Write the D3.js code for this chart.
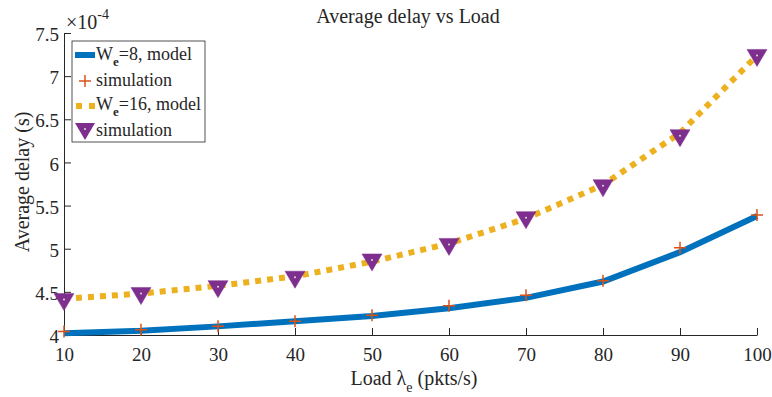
<!DOCTYPE html>
<html>
  <head>
    <meta charset="utf-8" />
    <title>Average delay vs Load</title>
    <script src="https://d3js.org/d3.v7.min.js"></script>
    <style>
      body { margin: 0; background: #fff; }
      svg text { font-family: "Liberation Serif", "Times New Roman", serif; fill: #262626; }
    </style>
  </head>
  <body>
    <script>
      // data (delay in units of 1e-4 s)
      const loads = [10, 20, 30, 40, 50, 60, 70, 80, 90, 100];
      const model8 = [4.02, 4.05, 4.10, 4.16, 4.22, 4.31, 4.43, 4.62, 4.96, 5.38];
      const sim8 = [4.04, 4.06, 4.10, 4.16, 4.23, 4.34, 4.46, 4.63, 5.01, 5.39];
      const model16 = [4.42, 4.48, 4.57, 4.68, 4.85, 5.06, 5.35, 5.74, 6.34, 7.24];
      const sim16 = [4.41, 4.48, 4.56, 4.67, 4.87, 5.05, 5.36, 5.73, 6.31, 7.24];
      const yTicks = [4, 4.5, 5, 5.5, 6, 6.5, 7, 7.5];

      const width = 772, height = 397;
      const margin = { top: 33, right: 15, bottom: 62, left: 64 };

      const svg = d3.select("body").append("svg")
        .attr("width", width)
        .attr("height", height);

      const x = d3.scaleLinear().domain([10, 100]).range([margin.left, width - margin.right]);
      const y = d3.scaleLinear().domain([4, 7.5]).range([height - margin.bottom, margin.top]);

      // axes (ticks pointing inward, like matlab)
      const xAxis = svg.append("g")
        .attr("transform", `translate(0,${height - margin.bottom})`)
        .call(d3.axisBottom(x).tickValues(loads).tickSizeInner(-7).tickSizeOuter(0).tickPadding(13));
      const yAxis = svg.append("g")
        .attr("transform", `translate(${margin.left},0)`)
        .call(d3.axisLeft(y).tickValues(yTicks).tickFormat(d3.format("")).tickSizeInner(-7).tickSizeOuter(0).tickPadding(5));
      [xAxis, yAxis].forEach(g => {
        g.attr("font-family", null).attr("font-size", null);
        g.select(".domain").attr("stroke", "#262626").attr("stroke-width", 1);
        g.selectAll(".tick line").attr("stroke", "#262626");
        g.selectAll(".tick text").style("font-size", "19px").attr("fill", "#262626");
      });
      yAxis.selectAll(".tick text").attr("dy", "0.4em");

      // exponent label
      svg.append("text").attr("x", 66).attr("y", 29).style("font-size", "20px")
        .html('×10<tspan dy="-10" style="font-size:14px">-4</tspan>');

      // title and labels
      svg.append("text").attr("x", 408).attr("y", 23).attr("text-anchor", "middle")
        .style("font-size", "20px").text("Average delay vs Load");
      svg.append("text").attr("x", 414).attr("y", 385).attr("text-anchor", "middle")
        .style("font-size", "20px")
        .html('Load λ<tspan dy="7" style="font-size:14px">e</tspan><tspan dy="-7"> (pkts/s)</tspan>');
      svg.append("text")
        .attr("transform", "translate(29,182) rotate(-90)")
        .attr("text-anchor", "middle").style("font-size", "20px").text("Average delay (s)");

      const line = d3.line().x((d, i) => x(loads[i])).y(d => y(d));

      // lines
      svg.append("path").datum(model8).attr("d", line)
        .attr("fill", "none").attr("stroke", "#0072BD").attr("stroke-width", 6);
      svg.append("path").datum(model16).attr("d", line)
        .attr("fill", "none").attr("stroke", "#EDB120").attr("stroke-width", 6)
        .attr("stroke-dasharray", "6,6");

      // markers
      const plusPath = s => `M${-s},0H${s}M0,${-s}V${s}`;
      const triPath = "M-10,-6L10,-6L0,11Z";

      svg.append("g").selectAll("path").data(sim8).join("path")
        .attr("transform", (d, i) => `translate(${x(loads[i])},${y(d)})`)
        .attr("d", plusPath(6)).attr("stroke", "#D95319").attr("stroke-width", 1.5).attr("fill", "none");

      const tri = svg.append("g").selectAll("g").data(sim16).join("g")
        .attr("transform", (d, i) => `translate(${x(loads[i])},${y(d)})`);
      tri.append("path").attr("d", triPath).attr("fill", "#7E2F8E").attr("stroke", "#7E2F8E").attr("stroke-width", 0.5);
      tri.append("circle").attr("r", 1).attr("fill", "#ddd");

      // legend
      const lg = svg.append("g").attr("transform", "translate(72,41)");
      lg.append("rect").attr("width", 133).attr("height", 101)
        .attr("fill", "#fff").attr("stroke", "#262626").attr("stroke-width", 0.8);
      const rows = [14, 40, 65, 88];
      lg.append("line").attr("x1", 3).attr("x2", 23).attr("y1", rows[0]).attr("y2", rows[0])
        .attr("stroke", "#0072BD").attr("stroke-width", 6);
      lg.append("path").attr("transform", `translate(13,${rows[1]})`).attr("d", plusPath(6))
        .attr("stroke", "#D95319").attr("stroke-width", 1.5);
      lg.append("line").attr("x1", 4).attr("x2", 23).attr("y1", rows[2]).attr("y2", rows[2])
        .attr("stroke", "#EDB120").attr("stroke-width", 6).attr("stroke-dasharray", "6,7");
      lg.append("path").attr("transform", `translate(13,${rows[3]})`).attr("d", triPath)
        .attr("fill", "#7E2F8E");
      lg.append("circle").attr("cx", 13).attr("cy", rows[3]).attr("r", 1).attr("fill", "#ddd");
      const labels = [
        'W<tspan dy="6" style="font-size:13px;font-weight:bold">e</tspan><tspan dy="-6">=8, model</tspan>',
        "simulation",
        'W<tspan dy="6" style="font-size:13px;font-weight:bold">e</tspan><tspan dy="-6">=16, model</tspan>',
        "simulation"
      ];
      const baselines = [19, 45, 69, 95];
      labels.forEach((t, i) => {
        lg.append("text").attr("x", 24).attr("y", baselines[i]).style("font-size", "18px").html(t);
      });
    </script>
  </body>
</html>
